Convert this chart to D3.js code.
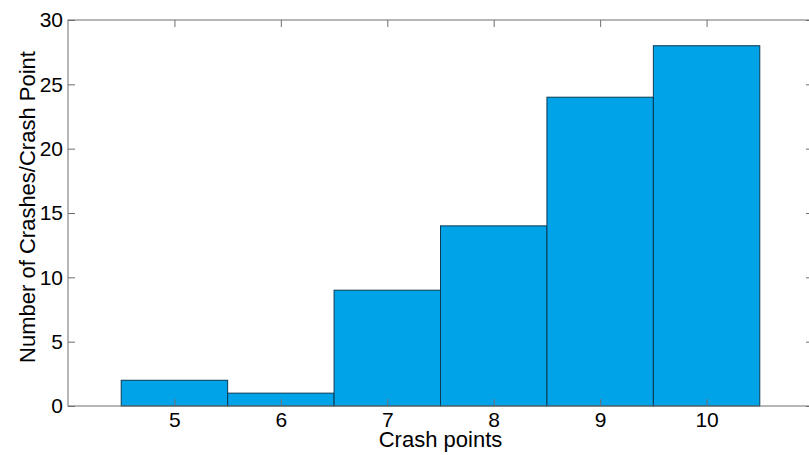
<!DOCTYPE html>
<html>
<head>
<meta charset="utf-8">
<script src="https://cdn.jsdelivr.net/npm/d3@7"></script>
<style>
  body { margin: 0; background: #fff; }
  svg text { font-family: "Liberation Sans", Arial, sans-serif; fill: #000; }
</style>
</head>
<body>
<svg id="chart"></svg>
<script>
const crashPoints = [5, 6, 7, 8, 9, 10];
const crashCounts = [2, 1, 9, 14, 24, 28];
const yTicks = [0, 5, 10, 15, 20, 25, 30];

const margin = { top: 20, right: -4, bottom: 49, left: 68 };
const width = 809 - margin.left - margin.right;
const height = 455 - margin.top - margin.bottom;

const svg = d3.select("#chart")
  .attr("width", 809)
  .attr("height", 455)
  .append("g")
  .attr("transform", "translate(" + margin.left + "," + margin.top + ")");

const x = d3.scaleLinear().domain([4, 11]).range([0, width]);
const y = d3.scaleLinear().domain([0, 30]).range([height, 0]);

// bars
svg.selectAll("rect.bar")
  .data(crashPoints)
  .enter().append("rect")
  .attr("class", "bar")
  .attr("x", d => x(d - 0.5))
  .attr("width", x(1) - x(0))
  .attr("y", (d, i) => y(crashCounts[i]))
  .attr("height", (d, i) => height - y(crashCounts[i]))
  .attr("fill", "#00a2e8")
  .attr("stroke", "#0b3a52")
  .attr("stroke-width", 1);

// box + ticks, matlab style (ticks pointing in)
const axisColor = "#6e6e6e";
const tickLen = 7;
const xAxis = d3.axisBottom(x).tickValues(crashPoints).tickFormat(d3.format("d")).tickSize(-tickLen).tickPadding(6);
const yAxis = d3.axisLeft(y).tickValues(yTicks).tickFormat(d3.format("d")).tickSize(-tickLen).tickPadding(5);

const gx = svg.append("g").attr("transform", "translate(0," + height + ")").call(xAxis);
const gy = svg.append("g").call(yAxis);
const gxTop = svg.append("g").call(d3.axisTop(x).tickValues(crashPoints).tickSize(-tickLen).tickFormat(""));
const gyRight = svg.append("g").attr("transform", "translate(" + width + ",0)")
  .call(d3.axisRight(y).tickValues(yTicks).tickSize(-tickLen).tickFormat(""));

[gx, gy, gxTop, gyRight].forEach(g => {
  g.attr("font-size", null).attr("font-family", null);
  g.select(".domain").remove();
  g.selectAll(".tick line").attr("stroke", axisColor);
  g.selectAll("text").style("font-size", "21px").attr("fill", "#000");
});

svg.append("rect")
  .attr("x", 0).attr("y", 0)
  .attr("width", width).attr("height", height)
  .attr("fill", "none")
  .attr("stroke", axisColor)
  .attr("stroke-width", 1);

// labels
svg.append("text")
  .attr("x", x(7.5))
  .attr("y", height + 41)
  .style("text-anchor", "middle")
  .style("font-size", "22px")
  .text("Crash points");

svg.append("text")
  .attr("transform", "translate(" + (-33) + "," + (height / 2 - 6) + ") rotate(-90)")
  .style("text-anchor", "middle")
  .style("font-size", "22px")
  .text("Number of Crashes/Crash Point");
</script>
</body>
</html>
